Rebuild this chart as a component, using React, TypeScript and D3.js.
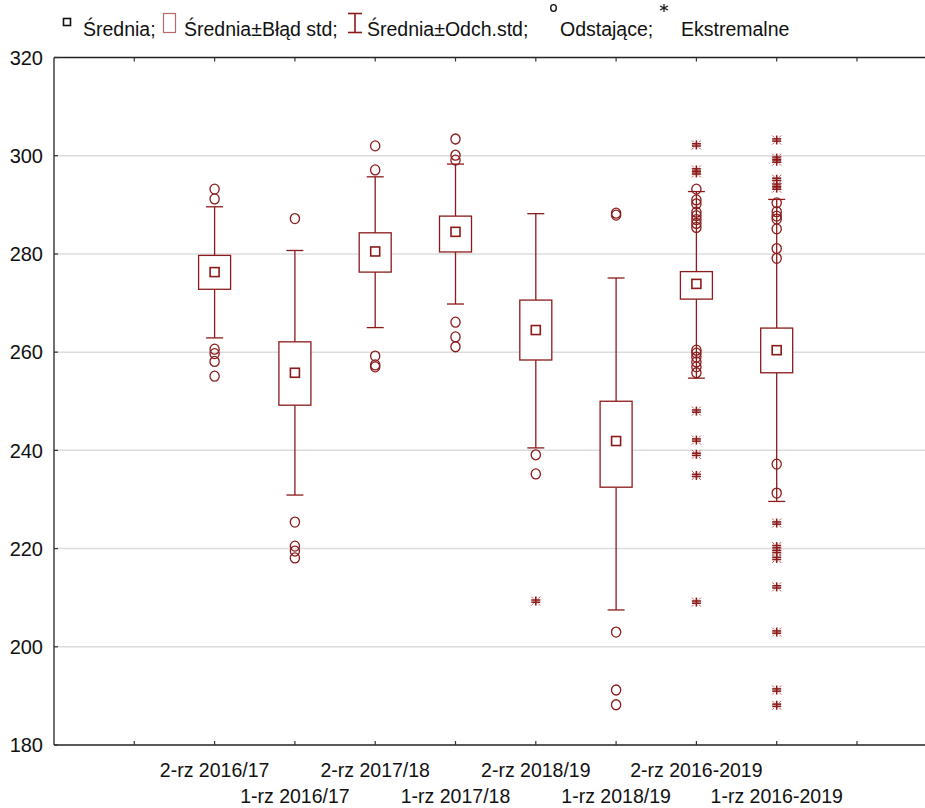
import * as d3 from "d3";

const categories = [
  "2-rz 2016/17",
  "1-rz 2016/17",
  "2-rz 2017/18",
  "1-rz 2017/18",
  "2-rz 2018/19",
  "1-rz 2018/19",
  "2-rz 2016-2019",
  "1-rz 2016-2019",
];

const means = [276.3, 255.8, 280.5, 284.5, 264.5, 241.9, 273.9, 260.4];
const seLow = [272.8, 249.2, 276.3, 280.4, 258.4, 232.5, 270.8, 255.8];
const seHigh = [279.7, 262.1, 284.3, 287.7, 270.6, 250.0, 276.4, 264.9];
const sdLow = [262.9, 230.9, 265.0, 269.8, 240.5, 207.5, 254.7, 229.6];
const sdHigh = [289.6, 280.7, 295.7, 298.3, 288.2, 275.1, 292.7, 291.1];

const outliers = [
  [293.2, 291.2, 260.6, 259.7, 258.1, 255.1],
  [287.2, 225.4, 220.5, 219.5, 218.1],
  [302.0, 297.1, 259.2, 257.4, 257.0],
  [303.4, 300.1, 299.1, 266.1, 263.1, 261.1],
  [239.1, 235.2],
  [288.3, 287.9, 203.0, 191.2, 188.2],
  [293.2, 291.0, 290.2, 288.5, 287.8, 287.0, 286.2, 285.4, 260.4, 259.8, 259.0, 258.0, 257.0, 255.8],
  [290.4, 288.6, 287.7, 287.1, 285.1, 281.1, 279.1, 237.2, 231.3],
];

const extremes = [
  [],
  [],
  [],
  [],
  [209.3],
  [],
  [302.2, 297.1, 296.5, 248.0, 242.1, 239.2, 234.9, 209.1],
  [303.2, 299.5, 298.9, 295.2, 294.0, 293.4, 225.2, 220.4, 219.4, 218.0, 212.2, 203.0, 191.2, 188.1],
];

const yTicks = [180, 200, 220, 240, 260, 280, 300, 320];

const RED = "#8b1a1a";
const FONT = "'Liberation Sans', Arial, sans-serif";

// Statistica-style "extreme" marker: bar with double cross and tiny corner ticks
function Star({ x, y }: { x: number; y: number }) {
  const s = 4.5;
  return (
    <g>
      <g stroke="#b65a5a" strokeWidth={1}>
        <line x1={x - s} y1={y - s} x2={x - 2.5} y2={y - 2.5} />
        <line x1={x + s} y1={y - s} x2={x + 2.5} y2={y - 2.5} />
        <line x1={x - s} y1={y + s} x2={x - 2.5} y2={y + 2.5} />
        <line x1={x + s} y1={y + s} x2={x + 2.5} y2={y + 2.5} />
      </g>
      <g stroke={RED} strokeWidth={1.6}>
        <line x1={x} y1={y - s} x2={x} y2={y + s} />
        <line x1={x - s} y1={y - 1.1} x2={x + s} y2={y - 1.1} />
        <line x1={x - s} y1={y + 1.1} x2={x + s} y2={y + 1.1} />
      </g>
    </g>
  );
}

export default function App() {
  const width = 925;
  const height = 808;
  const left = 54;
  const top = 57.5;
  const bottom = 745;

  const x = d3.scaleLinear().domain([0, 11]).range([left, left + 80.3 * 11]);
  const y = d3.scaleLinear().domain([180, 320]).range([bottom, top]);
  const cx = (i: number) => x(i + 2);

  const boxHalf = 16;
  const capHalf = 8.5;
  const meanHalf = 4.5;

  return (
    <svg
      width={width}
      height={height}
      style={{ position: "absolute", left: 0, top: 0, background: "#fff" }}
      fontFamily={FONT}
    >
      {/* legend */}
      <g fontSize={19.5} fill="#111">
        <rect x={63.5} y={18.5} width={7} height={7} fill="none" stroke="#111" strokeWidth={1.6} />
        <text x={83} y={36}>Średnia;</text>
        <rect x={163.5} y={13.5} width={12} height={19} fill="none" stroke="#b86a6a" strokeWidth={1.2} />
        <text x={184} y={36}>Średnia±Błąd std;</text>
        <line x1={355} y1={13} x2={355} y2={33} stroke={RED} strokeWidth={1.6} />
        <line x1={348} y1={13.5} x2={362} y2={13.5} stroke={RED} strokeWidth={1.6} />
        <line x1={348} y1={32.5} x2={362} y2={32.5} stroke={RED} strokeWidth={1.6} />
        <text x={367} y={36}>Średnia±Odch.std;</text>
        <ellipse cx={553.5} cy={8} rx={2.8} ry={3.4} fill="none" stroke="#111" strokeWidth={1.4} />
        <text x={560} y={36}>Odstające;</text>
        <g stroke="#111" strokeWidth={1.2}>
          <line x1={664} y1={4} x2={664} y2={12} />
          <line x1={660} y1={6} x2={668} y2={10} />
          <line x1={660} y1={10} x2={668} y2={6} />
        </g>
        <text x={681} y={36}>Ekstremalne</text>
      </g>

      {/* gridlines */}
      {yTicks
        .filter((t) => t > 180 && t < 320)
        .map((t) => (
          <line key={t} x1={left} x2={width} y1={y(t)} y2={y(t)} stroke="#dcdcdc" strokeWidth={1.5} />
        ))}

      {/* frame */}
      <line x1={left} x2={width} y1={top} y2={top} stroke="#222" strokeWidth={1.3} />
      <line x1={left} x2={width} y1={bottom} y2={bottom} stroke="#222" strokeWidth={1.3} />
      <line x1={left} x2={left} y1={top} y2={bottom} stroke="#222" strokeWidth={1.3} />

      {/* x ticks */}
      {d3.range(1, 11).map((k) => (
        <g key={k} stroke="#333" strokeWidth={1.2}>
          <line x1={x(k)} x2={x(k)} y1={bottom} y2={bottom - 4} />
          <line x1={x(k)} x2={x(k)} y1={top} y2={top + 4} />
        </g>
      ))}

      {/* y ticks */}
      {yTicks.map((t) => (
        <g key={t}>
          <line x1={left} x2={left + 4} y1={y(t)} y2={y(t)} stroke="#333" strokeWidth={1.2} />
          <text x={43} y={y(t)} dy="0.36em" textAnchor="end" fontSize={20} fill="#111">
            {t}
          </text>
        </g>
      ))}

      {/* x labels, staggered on two rows */}
      {categories.map((c, i) => (
        <text
          key={c}
          x={cx(i)}
          y={i % 2 === 0 ? 777 : 803}
          textAnchor="middle"
          fontSize={19.5}
          fill="#111"
        >
          {c}
        </text>
      ))}

      {/* boxes: mean, mean±SE box, mean±SD whiskers */}
      {categories.map((c, i) => {
        const X = cx(i);
        return (
          <g key={c} stroke={RED} fill="none" strokeWidth={1.3}>
            <line x1={X} x2={X} y1={y(sdHigh[i])} y2={y(seHigh[i])} />
            <line x1={X} x2={X} y1={y(seLow[i])} y2={y(sdLow[i])} />
            <line x1={X - capHalf} x2={X + capHalf} y1={y(sdHigh[i])} y2={y(sdHigh[i])} />
            <line x1={X - capHalf} x2={X + capHalf} y1={y(sdLow[i])} y2={y(sdLow[i])} />
            <rect
              x={X - boxHalf}
              y={y(seHigh[i])}
              width={boxHalf * 2}
              height={y(seLow[i]) - y(seHigh[i])}
              fill="#fff"
            />
            <rect
              x={X - meanHalf}
              y={y(means[i]) - meanHalf}
              width={meanHalf * 2}
              height={meanHalf * 2}
              strokeWidth={1.6}
            />
            {outliers[i].map((v, j) => (
              <ellipse key={j} cx={X} cy={y(v)} rx={4.6} ry={5} />
            ))}
            {extremes[i].map((v, j) => (
              <Star key={j} x={X} y={y(v)} />
            ))}
          </g>
        );
      })}
    </svg>
  );
}
